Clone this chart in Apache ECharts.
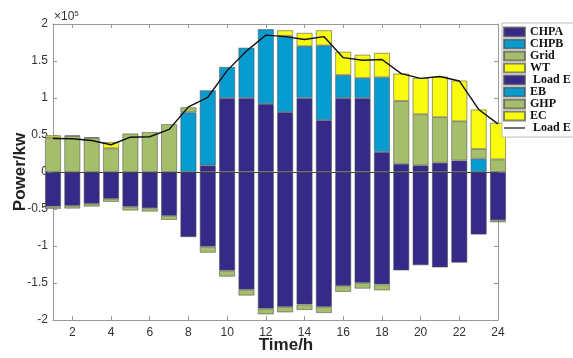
<!DOCTYPE html>
<html><head><meta charset="utf-8">
<script src="https://cdn.jsdelivr.net/npm/echarts@6/dist/echarts.min.js"></script>
<style>html,body{margin:0;padding:0;background:#fff}#c{width:573px;height:358px}</style>
</head><body><div id="c"></div>
<script>
const hours = ['1','2','3','4','5','6','7','8','9','10','11','12','13','14','15','16','17','18','19','20','21','22','23','24'];
// supply (positive), kW
const chpa = [0,0,0,0,0,0,0,0,9000,100000,100000,92000,81000,100000,70000,100000,100000,27000,11000,9000,12500,15500,0,0];
const chpb = [0,0,0,0,0,0,0,80500,101500,42000,68000,101000,103000,70000,101000,31000,27000,101000,0,0,0,0,18000,0];
const grid = [46700,48500,46000,32000,52000,54000,64700,7000,0,0,0,0,0,0,0,0,0,0,85000,69000,61500,53000,13000,17000];
const wt   = [3000,1000,1000,8500,0,0,0,0,0,0,0,0,7500,18000,20500,31500,31500,33000,37000,49000,55000,55000,53500,49500];
// demand (negative), kW
const loadEBar = [-46700,-45700,-43000,-36300,-47000,-49000,-59300,-88000,-101000,-133300,-159000,-184700,-182400,-179000,-182400,-154000,-150000,-152000,-133000,-126000,-129000,-122500,-84500,-65200];
const eb  = [0,0,0,0,0,0,0,0,0,0,0,0,0,0,0,0,0,0,0,0,0,0,0,0];
const ghp = [-3100,-3700,-3700,-4000,-5000,-4500,-5400,0,-8000,-8100,-8000,-7700,-7300,-7500,-8100,-8000,-7600,-8000,0,0,0,0,0,-2800];
const ec  = [0,0,0,0,0,0,0,0,0,0,0,0,0,0,0,0,0,0,0,0,0,0,0,0];
// electric load curve, kW
const loadLine = [45300,45000,42600,36800,47000,47600,57500,88000,101000,137000,163500,185000,183000,179000,183000,154500,151000,152000,133000,126500,129000,123000,84500,65000];
const yTickStep = 50000, yMin = -200000, yMax = 200000, yScale = 100000;

const C = {darkBlue:'#352A87', lightBlue:'#079CCF', green:'#A5BE6B', yellow:'#F9FB0E'};
const barDefs = [
  ['CHPA', chpa, C.darkBlue], ['CHPB', chpb, C.lightBlue], ['Grid', grid, C.green], ['WT', wt, C.yellow],
  ['LoadE_bar', loadEBar, C.darkBlue], ['EB', eb, C.lightBlue], ['GHP', ghp, C.green], ['EC', ec, C.yellow]
];
const displayName = {LoadE_bar:' Load E', LoadE_line:' Load E'};
const evenHour = (idx) => idx % 2 === 1;

const series = barDefs.map(([name, arr, color]) => ({
  name, type:'bar', stack:'all', barWidth:16, clip:true,
  data: arr.map(v => v === 0 ? null : v),
  itemStyle:{color, borderColor:'rgba(80,80,80,0.7)', borderWidth:0.8},
  emphasis:{disabled:true}
}));
series.push({
  name:'LoadE_line', type:'line', data: loadLine, symbol:'none', z:5,
  lineStyle:{color:'#111', width:1.4}, itemStyle:{color:'#555'},
  markLine:{silent:true, symbol:'none', label:{show:false},
    lineStyle:{color:'#444', width:1, type:'solid'}, data:[{yAxis:0}]}
});

const axisGray = '#999';
const chart = echarts.init(document.getElementById('c'), null, {renderer:'canvas'});
chart.setOption({
  animation:false,
  backgroundColor:'#fff',
  grid:{left:53, right:75, top:24, bottom:38, outerBoundsMode:'none', containLabel:false},
  legend:{
    orient:'vertical', left:502, top:23, padding:[3,3,3,1], itemGap:0,
    itemWidth:21, itemHeight:9,
    backgroundColor:'#fff', borderColor:'#bbb', borderWidth:1,
    data: barDefs.map(d => ({name:d[0], icon:'rect'})).concat([{name:'LoadE_line', icon:'path://M0,0 L20,0 L20,1.6 L0,1.6 Z'}]),
    formatter: n => displayName[n] || n,
    textStyle:{fontFamily:'Liberation Serif', fontWeight:'bold', fontSize:12, color:'#111', lineHeight:12}
  },
  xAxis:[{
    type:'category', data:hours, boundaryGap:false, position:'bottom',
    axisLine:{onZero:false, lineStyle:{color:axisGray}},
    axisTick:{inside:true, length:4, interval:evenHour, lineStyle:{color:axisGray}},
    axisLabel:{interval:evenHour, color:'#333', fontSize:12, margin:7, fontFamily:'Liberation Sans'},
    splitLine:{show:false},
    name:'Time/h', nameLocation:'middle', nameGap:17, nameMoveOverlap:false,
    nameTextStyle:{fontFamily:'Liberation Sans', fontWeight:'bold', fontSize:17, color:'#222', padding:[0,0,0,21]}
  },{
    type:'category', data:hours, boundaryGap:false, position:'top',
    axisLine:{onZero:false, lineStyle:{color:axisGray}},
    axisTick:{inside:true, length:4, interval:evenHour, lineStyle:{color:axisGray}},
    axisLabel:{show:false}, splitLine:{show:false}
  }],
  yAxis:[{
    type:'value', min:yMin, max:yMax, interval:yTickStep,
    axisLine:{show:true, onZero:false, lineStyle:{color:axisGray}},
    axisTick:{show:true, inside:true, length:4, lineStyle:{color:axisGray}},
    axisLabel:{formatter: v => String(v / yScale), color:'#333', fontSize:12, margin:5, fontFamily:'Liberation Sans'},
    splitLine:{show:false},
    name:'Power/kw', nameLocation:'middle', nameGap:24, nameMoveOverlap:false,
    nameTextStyle:{fontFamily:'Liberation Sans', fontWeight:'bold', fontSize:17, color:'#222'}
  },{
    type:'value', min:yMin, max:yMax, interval:yTickStep, position:'right',
    axisLine:{show:true, onZero:false, lineStyle:{color:axisGray}},
    axisTick:{show:true, inside:true, length:4, lineStyle:{color:axisGray}},
    axisLabel:{show:false}, splitLine:{show:false}
  }],
  graphic:[{
    type:'text', left:54, top:10,
    style:{text:'×10{s|5}', fill:'#333', font:'12px "Liberation Sans"',
      rich:{s:{fontSize:8, verticalAlign:'top', padding:[0,0,6,0], fill:'#333'}}}
  }],
  series
});
</script>
</body></html>
